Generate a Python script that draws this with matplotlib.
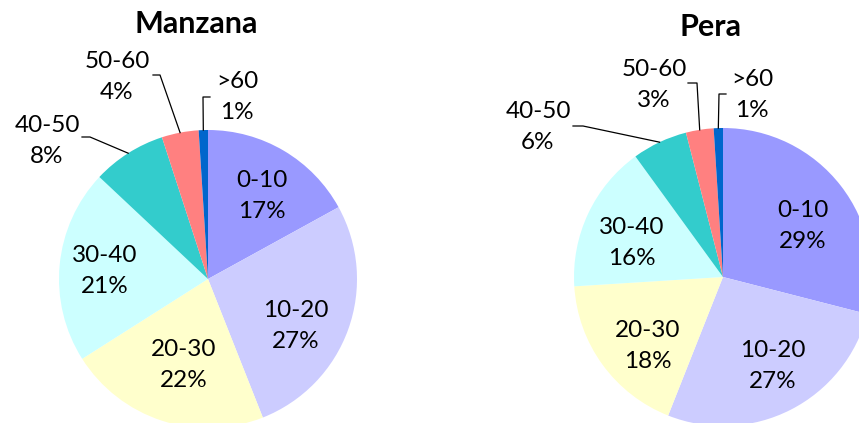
import numpy as np
import matplotlib.pyplot as plt

W, H = 859, 423

categories = ['0-10', '10-20', '20-30', '30-40', '40-50', '50-60', '>60']
manzana = [17, 27, 22, 21, 8, 4, 1]
pera = [29, 27, 18, 16, 6, 3, 1]
colors = ['#9999FF', '#CCCCFF', '#FFFFCC', '#CCFFFF', '#33CCCC', '#FF8080', '#0066CC']

plt.rcParams['font.family'] = ['Lato', 'DejaVu Sans']

# layout in pixel coords, y measured from the top
charts = [
    dict(title='Manzana', values=manzana, center=(208, 279), title_pos=(196, 33),
         labels=[(262, 196), (296, 326), (184, 365), (105, 271),
                 (47, 141), (117, 77), (237, 97)],
         leaders={4: [(82, 137), (90, 137)],
                  5: [(153, 75), (160, 75)],
                  6: [(210, 97), (203, 97)]}),
    dict(title='Pera', values=pera, center=(723, 277), title_pos=(710, 36),
         labels=[(803, 226), (773, 366), (648, 346), (632, 243),
                 (538, 127), (654, 85), (752, 95)],
         leaders={4: [(573, 126), (583, 126)],
                  5: [(688, 83), (697, 83)],
                  6: [(726, 94), (719, 94)]}),
]
radius = 149


def up(p):
    return (p[0], H - p[1])


fig = plt.figure(figsize=(W / 100, H / 100), dpi=100)
ax = fig.add_axes([0, 0, 1, 1])

for c in charts:
    cx, cy = up(c['center'])
    wedges, _ = ax.pie(c['values'], colors=colors, startangle=90,
                       counterclock=False, center=(cx, cy), radius=radius,
                       wedgeprops=dict(linewidth=0))
    total = sum(c['values'])
    for i, (w, pos) in enumerate(zip(wedges, c['labels'])):
        pct = round(100 * c['values'][i] / total)
        x, y = up(pos)
        ax.text(x, y, f'{categories[i]}\n{pct}%', ha='center', va='center',
                fontsize=17.5, linespacing=1.6, color='black')
        if i in c['leaders']:
            mid = np.deg2rad((w.theta1 + w.theta2) / 2)
            ex, ey = cx + radius * np.cos(mid), cy + radius * np.sin(mid)
            pts = [up(p) for p in c['leaders'][i]] + [(ex, ey)]
            xs, ys = zip(*pts)
            ax.plot(xs, ys, color='black', lw=0.9)
    tx, ty = up(c['title_pos'])
    ax.text(tx, ty, c['title'], ha='center', va='baseline',
            fontsize=22, fontweight='bold')

ax.set_xlim(0, W)
ax.set_ylim(0, H)
ax.set_aspect('equal')
ax.axis('off')
fig.set_facecolor('#FFFFFF')

fig.savefig('out.png', dpi=100)
